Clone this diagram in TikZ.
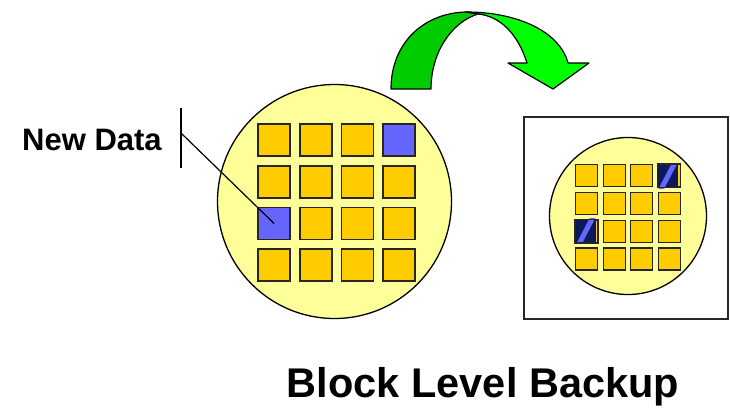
\documentclass[tikz,border=0pt]{standalone}
\usepackage{fontspec}
\setmainfont{Liberation Sans}
\definecolor{diskfill}{HTML}{FFFF99}
\definecolor{blockfill}{HTML}{FFCC00}
\definecolor{newfill}{HTML}{6666FF}
\definecolor{navy}{HTML}{0C1A5A}
\definecolor{darkgreen}{HTML}{00CC00}
\definecolor{brightgreen}{HTML}{00FF00}
\begin{document}
\begin{tikzpicture}[x=1pt,y=-1pt,
  disk/.style={circle,draw=black,line width=1.3pt,fill=diskfill,inner sep=0pt},
  bigsq/.style={rectangle,draw=black!85,line width=1.6pt,fill=blockfill,minimum size=32pt,inner sep=0pt,anchor=north west},
  smallsq/.style={rectangle,draw=black!85,line width=1.3pt,fill=blockfill,minimum size=22pt,inner sep=0pt,anchor=north west},
  lbl/.style={font=\bfseries,inner sep=0pt},
  leader/.style={draw=black,line width=1.2pt}]
\useasboundingbox (0,0) rectangle (730,407);
% backup frame
\node[draw=black!85,line width=1.5pt,minimum width=204pt,minimum height=202pt,inner sep=0pt] (frame) at (626,218) {};
% disks
\node[disk,minimum size=234pt] (bigdisk) at (334.5,201.5) {};
\node[disk,minimum size=157pt] (smalldisk) at (628,216) {};
% big blocks
\foreach \i in {0,...,3}{
  \foreach \j in {0,...,3}{
    \node[bigsq] (b\i\j) at ({257.3+41.6*\i},{123.3+41.7*\j}) {};
  }
}
\node[bigsq,fill=newfill] at (b30.north west) {};
\node[bigsq,fill=newfill] at (b02.north west) {};
% small blocks
\foreach \i in {0,...,3}{
  \foreach \j in {0,...,3}{
    \node[smallsq] (s\i\j) at ({575+27.5*\i},{164+27.8*\j}) {};
  }
}
% changed blocks in the backup
\foreach \n in {s30,s02}{
  \fill[navy] ([shift={(0.8pt,-0.8pt)}]\n.south west) rectangle ([shift={(-2.5pt,0.8pt)}]\n.north east);
  \begin{scope}
    \clip ([shift={(0.8pt,-0.8pt)}]\n.south west) rectangle ([shift={(-2.5pt,0.8pt)}]\n.north east);
    \draw[newfill,line width=5pt] ([shift={(3pt,-3pt)}]\n.south west) -- ([shift={(-5pt,3pt)}]\n.north east);
  \end{scope}
  \draw[black!85,line width=1.3pt] (\n.south west) rectangle (\n.north east);
}
% label
\node[lbl,font=\fontsize{31}{33}\selectfont\bfseries,anchor=base west] (newdata) at (22,150) {New Data};
\coordinate (vtop) at (181,108);
\coordinate (vbot) at (181,168);
\coordinate (vmid) at (181,133);
\draw[leader] (vtop) -- (vbot);
\draw[leader] (vmid) -- (b02.center);
% curved arrow
\filldraw[fill=darkgreen,draw=black,line width=1.2pt,line join=round]
  (391,89) .. controls (391,42) and (425,12) .. (468,12)
  -- (478,14) .. controls (452,22) and (431,52) .. (431,89) -- cycle;
\filldraw[fill=brightgreen,draw=black,line width=1.2pt,line join=round]
  (466,12) .. controls (518,12) and (560,32) .. (568,63)
  -- (589,63) -- (553,89) -- (508,63) -- (527,63)
  .. controls (518,34) and (500,16) .. (478,14) -- cycle;
% title
\node[lbl,font=\fontsize{41.5}{44}\selectfont\bfseries,anchor=base] (title) at (483,397) {Block Level Backup};
\end{tikzpicture}
\end{document}
